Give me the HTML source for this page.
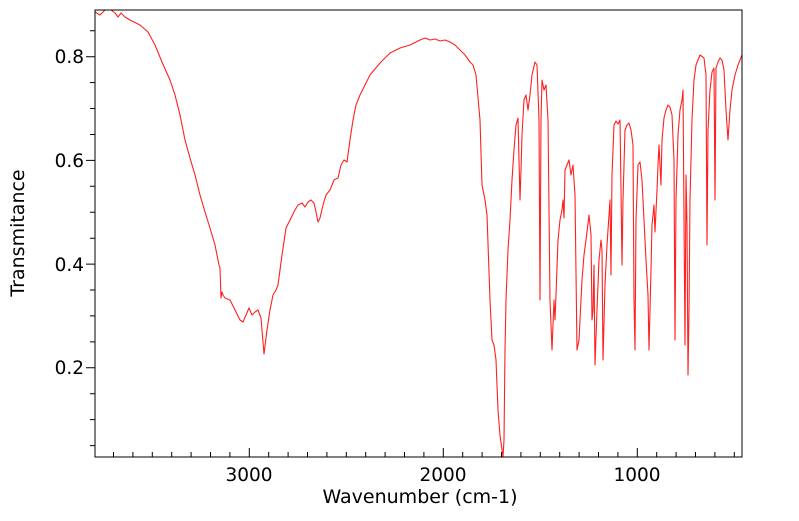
<!DOCTYPE html>
<html><head><meta charset="utf-8"><style>
body{margin:0;background:#fff}
svg text{font-family:"DejaVu Sans","Liberation Sans",sans-serif;fill:#000}
</style></head><body>
<svg width="799" height="516" viewBox="0 0 799 516" xmlns="http://www.w3.org/2000/svg">
<rect width="799" height="516" fill="#fff"/>
<clipPath id="c"><rect x="95" y="10" width="647" height="447"/></clipPath>
<polyline clip-path="url(#c)" fill="none" stroke="#ff2020" stroke-width="1.1" stroke-linejoin="round" points="95,12 100,15 105,10 110,9 115,13 118,17 121,13 125,17 130,20 140,25 148,32 155,45 162,62 170,80 175,95 180,115 185,140 190,158 195,175 200,195 205,212 210,228 215,245 219,265 220,268 221,298 222,292 223,295 225,298 230,300 235,310 240,320 243,322 246,315 249,308 252,315 255,312 258,310 261,318 264,354 267,330 270,310 273,295 276,290 278,285 282,255 286,228 290,220 295,210 298,205 302,203 305,207 308,202 311,200 314,203 316,212 318,222 320,218 323,205 326,195 330,190 334,180 338,178 341,165 344,160 347,162 350,140 353,120 356,105 360,95 365,85 370,75 380,63 390,53 400,48 410,45 420,40 425,38 430,40 435,39 440,41 445,40 450,42 455,45 460,50 465,55 470,62 473,65 476,75 480,120 482,185 485,200 487,215 490,300 492,340 494,345 496,360 498,410 500,435 502,450 503,457 504,440 505,350 506,300 508,250 510,220 512,180 514,150 516,125 518,118 519,160 520,200 521,170 522,135 524,100 526,95 528,110 530,95 532,75 535,62 537,65 539,120 540,300 541,120 542,80 544,90 546,85 548,120 550,300 552,350 554,300 555,320 556,295 558,240 560,220 562,210 563,200 564,218 565,170 567,165 569,160 571,175 573,165 575,195 577,350 579,340 580,320 582,280 584,255 586,240 589,215 591,235 592,320 593,310 594,265 595,365 597,310 599,260 601,240 602,250 603,360 605,285 607,245 609,215 610,200 611,275 612,175 614,125 616,121 618,124 620,120 621,190 622,265 623,200 625,130 627,125 629,123 631,130 633,145 634,300 635,350 636,220 638,165 640,162 642,180 644,220 646,260 648,295 649,350 651,270 652,225 654,205 655,232 657,190 658,165 659,145 660,165 661,185 662,140 664,118 666,110 668,105 670,107 672,115 674,160 675,340 676,200 678,135 680,110 682,100 683,90 685,345 686,175 687,225 688,375 689,310 690,200 692,120 694,80 696,65 700,55 704,58 706,75 707,245 708,130 710,90 712,72 714,68 715,200 716,68 718,62 720,58 722,60 724,70 726,110 728,140 730,110 732,90 735,75 738,65 742,55"/>
<rect x="95" y="10" width="647" height="447" fill="none" stroke="#000" stroke-width="1"/>
<g stroke="#000" stroke-width="1">
<path d="M249.3,457v-9M443.3,457v-9M637.3,457v-9"/>
<path d="M113.5,457v-5M132.9,457v-5M152.3,457v-5M171.7,457v-5M191.1,457v-5M210.5,457v-5M229.9,457v-5M268.7,457v-5M288.1,457v-5M307.5,457v-5M326.9,457v-5M346.3,457v-5M365.7,457v-5M385.1,457v-5M404.5,457v-5M423.9,457v-5M462.7,457v-5M482.1,457v-5M501.5,457v-5M520.9,457v-5M540.3,457v-5M559.7,457v-5M579.1,457v-5M598.5,457v-5M617.9,457v-5M656.7,457v-5M676.1,457v-5M695.5,457v-5M714.9,457v-5M734.3,457v-5"/>
<path d="M95,56.7h-9M95,160.4h-9M95,264.1h-9M95,367.8h-9"/>
<path d="M95,30.8h-5M95,82.6h-5M95,108.5h-5M95,134.5h-5M95,186.3h-5M95,212.2h-5M95,238.2h-5M95,290h-5M95,315.9h-5M95,341.9h-5M95,393.7h-5M95,419.6h-5M95,445.6h-5"/>
</g>
<g font-size="18.5" text-anchor="middle">
<text x="249" y="481">3000</text><text x="443" y="481">2000</text><text x="637" y="481">1000</text>
</g>
<text x="420" y="503" font-size="19" text-anchor="middle">Wavenumber (cm-1)</text>
<g font-size="18.5" text-anchor="end">
<text x="84" y="63">0.8</text><text x="84" y="167">0.6</text><text x="84" y="271">0.4</text><text x="84" y="374">0.2</text>
</g>
<text font-size="19" text-anchor="middle" transform="translate(24,233) rotate(-90)">Transmitance</text>
</svg>
</body></html>
